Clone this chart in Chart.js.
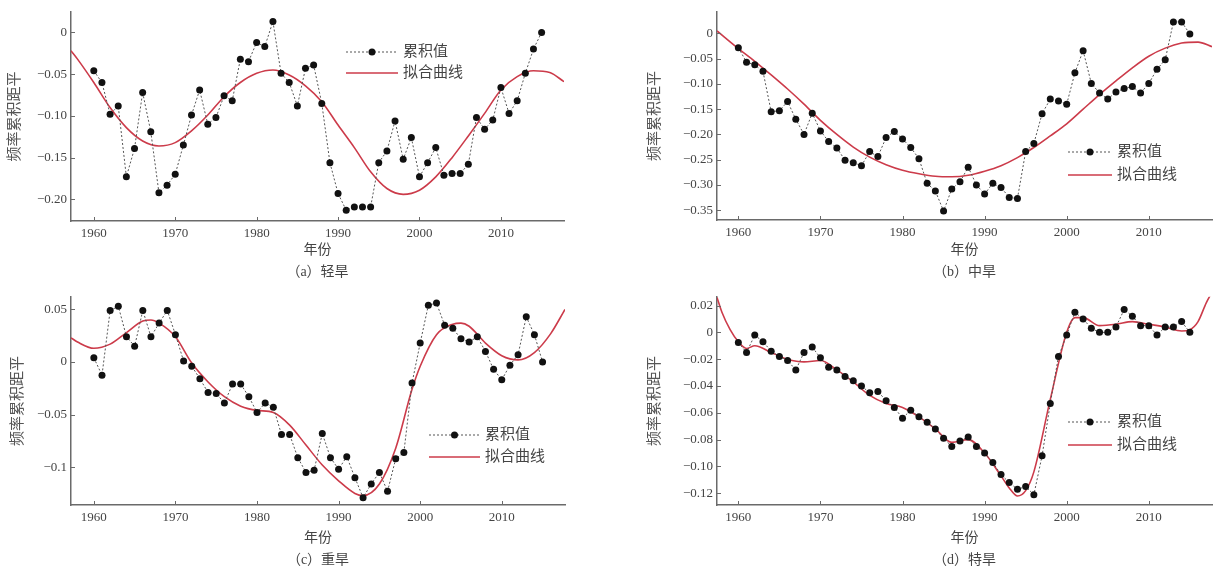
<!DOCTYPE html>
<html>
<head>
<meta charset="utf-8">
<script src="https://cdn.jsdelivr.net/npm/chart.js@4.4.1/dist/chart.umd.min.js"></script>
<style>
  body { margin: 0; background: #fff; }
  #wrap { position: relative; width: 1217px; height: 573px; overflow: hidden; }
  canvas { position: absolute; }
</style>
</head>
<body>
<div id="wrap">
  <canvas id="pa" width="600" height="285" style="left:0;top:0"></canvas>
  <canvas id="pb" width="617" height="285" style="left:600px;top:0"></canvas>
  <canvas id="pc" width="600" height="288" style="left:0;top:285px"></canvas>
  <canvas id="pd" width="617" height="288" style="left:600px;top:285px"></canvas>
</div>
<script>
// years of the cumulative series (same for all four panels)
var years = [1960,1961,1962,1963,1964,1965,1966,1967,1968,1969,
             1970,1971,1972,1973,1974,1975,1976,1977,1978,1979,
             1980,1981,1982,1983,1984,1985,1986,1987,1988,1989,
             1990,1991,1992,1993,1994,1995,1996,1997,1998,1999,
             2000,2001,2002,2003,2004,2005,2006,2007,2008,2009,
             2010,2011,2012,2013,2014,2015];
var xTicks = [1960,1970,1980,1990,2000,2010];

// (a) 轻旱
var cumA = [-0.046,-0.060,-0.098,-0.088,-0.173,-0.139,-0.072,-0.119,-0.192,-0.183,
            -0.170,-0.135,-0.099,-0.069,-0.110,-0.102,-0.076,-0.082,-0.032,-0.035,
            -0.012,-0.017,0.013,-0.049,-0.060,-0.088,-0.043,-0.039,-0.085,-0.156,
            -0.193,-0.213,-0.209,-0.209,-0.209,-0.156,-0.142,-0.106,-0.152,-0.126,
            -0.173,-0.156,-0.138,-0.171,-0.169,-0.169,-0.158,-0.102,-0.116,-0.105,
            -0.066,-0.097,-0.082,-0.049,-0.020,0.000];
var fitYearsA = [1957.2,1958,1960,1962,1964,1966,1968,1970,1972,1974,1976,1978,1980,1982,1984,1986,
                 1988,1990,1992,1994,1996,1998,2000,2002,2004,2006,2008,2010,2012,2014,2016,2017.75];
var fitA = [-0.022,-0.032,-0.060,-0.090,-0.114,-0.130,-0.136,-0.132,-0.118,-0.099,-0.077,-0.060,-0.049,-0.045,-0.051,-0.064,
            -0.083,-0.111,-0.138,-0.167,-0.187,-0.194,-0.189,-0.173,-0.150,-0.124,-0.097,-0.069,-0.053,-0.046,-0.048,-0.059];
var yTicksA = [0,-0.05,-0.10,-0.15,-0.20];
var yLabelsA = ['0','\u22120.05','\u22120.10','\u22120.15','\u22120.20'];

// (b) 中旱
var cumB = [-0.028,-0.057,-0.062,-0.075,-0.155,-0.153,-0.135,-0.170,-0.200,-0.158,
            -0.193,-0.214,-0.227,-0.251,-0.256,-0.262,-0.234,-0.244,-0.206,-0.194,
            -0.209,-0.226,-0.248,-0.297,-0.312,-0.352,-0.308,-0.294,-0.265,-0.300,
            -0.318,-0.297,-0.305,-0.325,-0.327,-0.234,-0.218,-0.159,-0.130,-0.134,
            -0.140,-0.078,-0.034,-0.099,-0.118,-0.130,-0.116,-0.109,-0.105,-0.118,
            -0.099,-0.071,-0.052,0.023,0.023,-0.001];
var fitYearsB = [1957.4,1960,1962,1964,1966,1968,1970,1972,1974,1976,1978,1980,1982,1984,1986,1988,
                 1990,1992,1994,1996,1998,2000,2002,2004,2006,2008,2010,2012,2014,2016,2017.7];
var fitB = [0.005,-0.030,-0.055,-0.082,-0.110,-0.140,-0.172,-0.200,-0.225,-0.245,-0.260,-0.271,-0.278,-0.283,-0.284,-0.281,
            -0.273,-0.262,-0.246,-0.226,-0.203,-0.179,-0.150,-0.121,-0.094,-0.068,-0.045,-0.029,-0.019,-0.017,-0.026];
var yTicksB = [0,-0.05,-0.10,-0.15,-0.20,-0.25,-0.30,-0.35];
var yLabelsB = ['0','\u22120.05','\u22120.10','\u22120.15','\u22120.20','\u22120.25','\u22120.30','\u22120.35'];

// (c) 重旱
var cumC = [0.004,-0.0125,0.049,0.053,0.024,0.015,0.049,0.024,0.037,0.049,
            0.026,0.001,-0.004,-0.016,-0.029,-0.030,-0.039,-0.021,-0.021,-0.033,
            -0.048,-0.039,-0.043,-0.069,-0.069,-0.091,-0.105,-0.103,-0.068,-0.091,
            -0.102,-0.090,-0.110,-0.129,-0.116,-0.105,-0.123,-0.092,-0.086,-0.020,
            0.018,0.054,0.056,0.035,0.032,0.022,0.019,0.024,0.010,-0.007,
            -0.017,-0.003,0.007,0.043,0.026,0.000];
var fitYearsC = [1957.2,1958,1960,1962,1964,1966,1967,1968,1970,1972,1974,1976,1978,1980,1982,1984,1986,1988,
                 1990,1992,1993,1995,1997,1999,2000,2002,2004,2005,2006,2008,2010,2012,2014,2016,2017.75];
var fitC = [0.023,0.019,0.013,0.017,0.028,0.039,0.040,0.037,0.024,-0.001,-0.019,-0.033,-0.042,-0.046,-0.048,-0.060,-0.079,-0.098,
            -0.113,-0.125,-0.127,-0.116,-0.082,-0.026,-0.004,0.026,0.036,0.037,0.034,0.018,0.006,0.002,0.009,0.027,0.050];
var yTicksC = [0.05,0,-0.05,-0.1];
var yLabelsC = ['0.05','0','\u22120.05','\u22120.1'];

// (d) 特旱
var cumD = [-0.0076,-0.015,-0.002,-0.007,-0.014,-0.018,-0.021,-0.028,-0.015,-0.011,
            -0.019,-0.026,-0.028,-0.033,-0.036,-0.040,-0.045,-0.044,-0.051,-0.056,
            -0.064,-0.058,-0.063,-0.067,-0.072,-0.079,-0.085,-0.081,-0.078,-0.085,
            -0.090,-0.097,-0.106,-0.112,-0.117,-0.115,-0.121,-0.092,-0.053,-0.018,
            -0.002,0.015,0.010,0.003,0.000,0.000,0.004,0.017,0.012,0.005,
            0.005,-0.002,0.004,0.004,0.008,0.000];
var fitYearsD = [1957.4,1958,1959,1960,1961,1962,1964,1966,1968,1970,1972,1974,1976,1978,1980,1982,1984,1986,1988,
                 1990,1992,1993,1994,1995,1996,1998,2000,2001,2002,2004,2006,2008,2010,2012,2014,2015,2016,2017,2017.7];
var fitD = [0.026,0.015,0.002,-0.007,-0.012,-0.010,-0.015,-0.020,-0.022,-0.021,-0.028,-0.037,-0.047,-0.053,-0.056,-0.063,-0.072,-0.082,-0.080,
            -0.090,-0.107,-0.116,-0.122,-0.118,-0.104,-0.050,0.000,0.011,0.011,0.005,0.006,0.008,0.006,0.004,0.001,0.002,0.008,0.022,0.030];
var yTicksD = [0.02,0,-0.02,-0.04,-0.06,-0.08,-0.10,-0.12];
var yLabelsD = ['0.02','0','\u22120.02','\u22120.04','\u22120.06','\u22120.08','\u22120.10','\u22120.12'];

var seriesNames = ['累积值','拟合曲线'];
var xTitle = '年份';
var yTitle = '频率累积距平';

var FONT = "'Liberation Serif', 'Noto Sans CJK SC', serif";
var AXIS = '#6a6a6a';
var TXT = '#444';
var RED = '#cc3b4a';

// small inward tick marks and the in-plot legend
var decor = {
  id: 'decor',
  afterDraw: function(chart, args, opts) {
    var ctx = chart.ctx, xs = chart.scales.x, ys = chart.scales.y;
    ctx.save();
    ctx.strokeStyle = AXIS;
    ctx.lineWidth = 1;
    xs.ticks.forEach(function(t) {
      var px = Math.round(xs.getPixelForValue(t.value)) + 0.5;
      ctx.beginPath(); ctx.moveTo(px, xs.top); ctx.lineTo(px, xs.top - 4); ctx.stroke();
    });
    ys.ticks.forEach(function(t) {
      var py = Math.round(ys.getPixelForValue(t.value)) + 0.5;
      ctx.beginPath(); ctx.moveTo(ys.right, py); ctx.lineTo(ys.right + 4, py); ctx.stroke();
    });
    // legend
    var lx = opts.x, ly = opts.y, len = opts.len, gap = opts.gap;
    ctx.lineWidth = 1;
    ctx.strokeStyle = '#555';
    ctx.setLineDash([2, 2]);
    ctx.beginPath(); ctx.moveTo(lx, ly); ctx.lineTo(lx + len, ly); ctx.stroke();
    ctx.setLineDash([]);
    ctx.fillStyle = '#111';
    ctx.beginPath(); ctx.arc(lx + len / 2, ly, 3.5, 0, Math.PI * 2); ctx.fill();
    ctx.strokeStyle = RED;
    ctx.lineWidth = 1.6;
    ctx.beginPath(); ctx.moveTo(lx, ly + gap); ctx.lineTo(lx + len, ly + gap); ctx.stroke();
    ctx.fillStyle = TXT;
    ctx.font = "15px " + FONT;
    ctx.textBaseline = 'middle';
    ctx.fillText(seriesNames[0], lx + len + 5, ly);
    ctx.fillText(seriesNames[1], lx + len + 5, ly + gap);
    ctx.restore();
  }
};

function panel(id, p) {
  var W = p.W, H = p.H, a = p.area;
  new Chart(document.getElementById(id), {
    type: 'line',
    data: {
      datasets: [{
        label: seriesNames[0],
        data: years.map(function(y, i) { return {x: y, y: p.cum[i]}; }),
        borderColor: '#555',
        borderWidth: 1,
        borderDash: [2, 2],
        pointRadius: 3.5,
        pointBackgroundColor: '#111',
        pointBorderWidth: 0,
        tension: 0
      }, {
        label: seriesNames[1],
        data: p.fitX.map(function(y, i) { return {x: y, y: p.fitY[i]}; }),
        borderColor: RED,
        borderWidth: 1.6,
        pointRadius: 0,
        cubicInterpolationMode: 'monotone'
      }]
    },
    options: {
      responsive: false,
      animation: false,
      events: [],
      layout: { padding: { left: 0, top: a.t, right: W - a.r, bottom: 0 } },
      plugins: {
        legend: { display: false },
        tooltip: { enabled: false },
        decor: p.legend
      },
      scales: {
        x: {
          type: 'linear',
          min: p.xMin, max: p.xMax,
          afterBuildTicks: function(s) { s.ticks = xTicks.map(function(v) { return {value: v}; }); },
          afterFit: function(s) { s.height = H - a.b; },
          grid: { display: false, drawTicks: false },
          border: { display: true, color: AXIS, width: 1.5 },
          ticks: { autoSkip: false, maxRotation: 0, padding: 5, color: TXT,
                   font: { family: FONT, size: 13 },
                   callback: function(v) { return String(v); } },
          title: { display: true, text: [xTitle, p.caption], color: TXT,
                   font: { family: FONT, size: 14, lineHeight: '22px' },
                   padding: { top: 0, bottom: p.capPad } }
        },
        y: {
          min: p.yMin, max: p.yMax,
          afterBuildTicks: function(s) { s.ticks = p.yTicks.map(function(v) { return {value: v}; }); },
          afterFit: function(s) { s.width = a.l; },
          grid: { display: false, drawTicks: false },
          border: { display: true, color: AXIS, width: 1.5 },
          ticks: { autoSkip: false, padding: 4, color: TXT,
                   font: { family: FONT, size: 13 },
                   callback: function(v, i) { return p.yLabels[i]; } },
          title: { display: true, text: yTitle, color: '#555',
                   font: { family: FONT, size: 15 },
                   padding: { top: p.yTitlePad, bottom: 0 } }
        }
      }
    },
    plugins: [decor]
  });
}

panel('pa', { W: 600, H: 285, area: {l: 71, r: 564, t: 8, b: 221},
  xMin: 1957.2, xMax: 2017.75, yMin: -0.2259, yMax: 0.0247,
  cum: cumA, fitX: fitYearsA, fitY: fitA, yTicks: yTicksA, yLabels: yLabelsA,
  caption: '（a）轻旱', capPad: 2, yTitlePad: 6,
  legend: { x: 346, y: 52, len: 52, gap: 21 } });

panel('pb', { W: 617, H: 285, area: {l: 117, r: 612, t: 8, b: 220},
  xMin: 1957.4, xMax: 2017.7, yMin: -0.3696, yMax: 0.043,
  cum: cumB, fitX: fitYearsB, fitY: fitB, yTicks: yTicksB, yLabels: yLabelsB,
  caption: '（b）中旱', capPad: 2, yTitlePad: 46,
  legend: { x: 468, y: 152, len: 44, gap: 23 } });

panel('pc', { W: 600, H: 288, area: {l: 71, r: 565, t: 6, b: 220},
  xMin: 1957.2, xMax: 2017.75, yMin: -0.136, yMax: 0.062,
  cum: cumC, fitX: fitYearsC, fitY: fitC, yTicks: yTicksC, yLabels: yLabelsC,
  caption: '（c）重旱', capPad: 2, yTitlePad: 9,
  legend: { x: 429, y: 150, len: 51, gap: 22 } });

panel('pd', { W: 617, H: 288, area: {l: 117, r: 612, t: 5, b: 220},
  xMin: 1957.4, xMax: 2017.7, yMin: -0.1287, yMax: 0.0265,
  cum: cumD, fitX: fitYearsD, fitY: fitD, yTicks: yTicksD, yLabels: yLabelsD,
  caption: '（d）特旱', capPad: 2, yTitlePad: 46,
  legend: { x: 468, y: 137, len: 44, gap: 23 } });
</script>
</body>
</html>
